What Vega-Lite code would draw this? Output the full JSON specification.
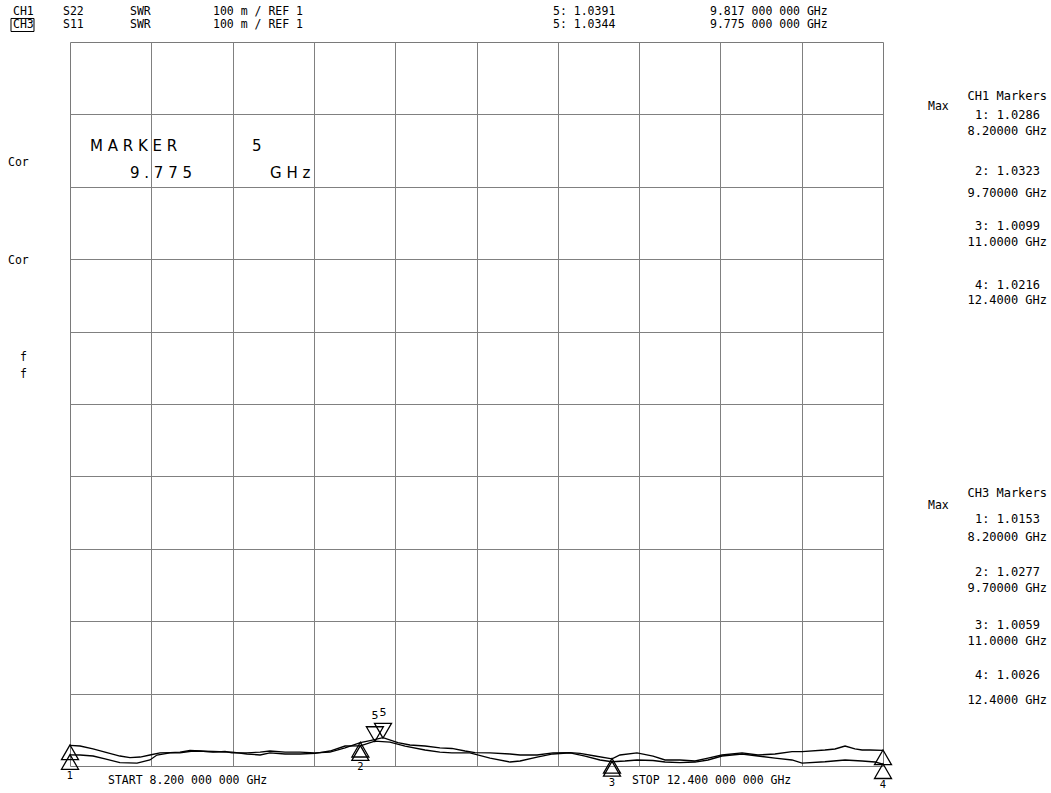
{
  "$schema": "https://vega.github.io/schema/vega-lite/v6.json",
  "width": 813,
  "height": 724,
  "autosize": {"type": "none"},
  "padding": {"left": 70, "top": 42, "right": 168, "bottom": 27},
  "background": "white",
  "config": {"view": {"stroke": "#7a7a7a", "strokeWidth": 1}, "font": "DejaVu Sans"},
  "datasets": {
    "trace": [
      {"ch":"CH1","f":8.200,"swr":1.0286},{"ch":"CH1","f":8.252,"swr":1.0276},{"ch":"CH1","f":8.319,"swr":1.0235},{"ch":"CH1","f":8.381,"swr":1.0193},{"ch":"CH1","f":8.458,"swr":1.0138},{"ch":"CH1","f":8.510,"swr":1.0117},{"ch":"CH1","f":8.562,"swr":1.0124},{"ch":"CH1","f":8.613,"swr":1.0152},{"ch":"CH1","f":8.665,"swr":1.0180},{"ch":"CH1","f":8.717,"swr":1.0186},{"ch":"CH1","f":8.768,"swr":1.0193},{"ch":"CH1","f":8.820,"swr":1.0214},{"ch":"CH1","f":8.872,"swr":1.0207},{"ch":"CH1","f":8.939,"swr":1.0193},{"ch":"CH1","f":9.001,"swr":1.0200},{"ch":"CH1","f":9.037,"swr":1.0180},{"ch":"CH1","f":9.114,"swr":1.0180},{"ch":"CH1","f":9.182,"swr":1.0193},{"ch":"CH1","f":9.233,"swr":1.0207},{"ch":"CH1","f":9.311,"swr":1.0193},{"ch":"CH1","f":9.388,"swr":1.0193},{"ch":"CH1","f":9.466,"swr":1.0180},{"ch":"CH1","f":9.543,"swr":1.0193},{"ch":"CH1","f":9.621,"swr":1.0249},{"ch":"CH1","f":9.700,"swr":1.0323},{"ch":"CH1","f":9.750,"swr":1.0352},{"ch":"CH1","f":9.817,"swr":1.0391},{"ch":"CH1","f":9.894,"swr":1.0322},{"ch":"CH1","f":9.956,"swr":1.0290},{"ch":"CH1","f":10.034,"swr":1.0276},{"ch":"CH1","f":10.111,"swr":1.0249},{"ch":"CH1","f":10.173,"swr":1.0242},{"ch":"CH1","f":10.241,"swr":1.0207},{"ch":"CH1","f":10.292,"swr":1.0184},{"ch":"CH1","f":10.370,"swr":1.0180},{"ch":"CH1","f":10.473,"swr":1.0166},{"ch":"CH1","f":10.525,"swr":1.0152},{"ch":"CH1","f":10.613,"swr":1.0152},{"ch":"CH1","f":10.695,"swr":1.0180},{"ch":"CH1","f":10.783,"swr":1.0186},{"ch":"CH1","f":10.835,"swr":1.0173},{"ch":"CH1","f":10.912,"swr":1.0138},{"ch":"CH1","f":11.000,"swr":1.0099},{"ch":"CH1","f":11.041,"swr":1.0152},{"ch":"CH1","f":11.129,"swr":1.0180},{"ch":"CH1","f":11.212,"swr":1.0138},{"ch":"CH1","f":11.274,"swr":1.0083},{"ch":"CH1","f":11.351,"swr":1.0083},{"ch":"CH1","f":11.429,"swr":1.0069},{"ch":"CH1","f":11.496,"swr":1.0110},{"ch":"CH1","f":11.568,"swr":1.0152},{"ch":"CH1","f":11.672,"swr":1.0180},{"ch":"CH1","f":11.754,"swr":1.0152},{"ch":"CH1","f":11.842,"swr":1.0166},{"ch":"CH1","f":11.930,"swr":1.0198},{"ch":"CH1","f":11.982,"swr":1.0198},{"ch":"CH1","f":12.100,"swr":1.0221},{"ch":"CH1","f":12.152,"swr":1.0235},{"ch":"CH1","f":12.204,"swr":1.0276},{"ch":"CH1","f":12.255,"swr":1.0235},{"ch":"CH1","f":12.292,"swr":1.0221},{"ch":"CH1","f":12.333,"swr":1.0221},{"ch":"CH1","f":12.400,"swr":1.0216},
      {"ch":"CH3","f":8.200,"swr":1.0153},{"ch":"CH3","f":8.252,"swr":1.0152},{"ch":"CH3","f":8.319,"swr":1.0138},{"ch":"CH3","f":8.381,"swr":1.0097},{"ch":"CH3","f":8.458,"swr":1.0048},{"ch":"CH3","f":8.546,"swr":1.0041},{"ch":"CH3","f":8.613,"swr":1.0083},{"ch":"CH3","f":8.649,"swr":1.0152},{"ch":"CH3","f":8.717,"swr":1.0180},{"ch":"CH3","f":8.768,"swr":1.0180},{"ch":"CH3","f":8.835,"swr":1.0207},{"ch":"CH3","f":8.939,"swr":1.0200},{"ch":"CH3","f":9.037,"swr":1.0193},{"ch":"CH3","f":9.114,"swr":1.0166},{"ch":"CH3","f":9.182,"swr":1.0152},{"ch":"CH3","f":9.233,"swr":1.0180},{"ch":"CH3","f":9.311,"swr":1.0166},{"ch":"CH3","f":9.388,"swr":1.0166},{"ch":"CH3","f":9.466,"swr":1.0173},{"ch":"CH3","f":9.543,"swr":1.0207},{"ch":"CH3","f":9.621,"swr":1.0276},{"ch":"CH3","f":9.700,"swr":1.0277},{"ch":"CH3","f":9.775,"swr":1.0344},{"ch":"CH3","f":9.853,"swr":1.0331},{"ch":"CH3","f":9.931,"swr":1.0276},{"ch":"CH3","f":10.034,"swr":1.0221},{"ch":"CH3","f":10.111,"swr":1.0193},{"ch":"CH3","f":10.173,"swr":1.0180},{"ch":"CH3","f":10.266,"swr":1.0180},{"ch":"CH3","f":10.370,"swr":1.0110},{"ch":"CH3","f":10.473,"swr":1.0055},{"ch":"CH3","f":10.525,"swr":1.0069},{"ch":"CH3","f":10.613,"swr":1.0124},{"ch":"CH3","f":10.695,"swr":1.0166},{"ch":"CH3","f":10.783,"swr":1.0180},{"ch":"CH3","f":10.861,"swr":1.0138},{"ch":"CH3","f":10.938,"swr":1.0083},{"ch":"CH3","f":11.000,"swr":1.0059},{"ch":"CH3","f":11.067,"swr":1.0069},{"ch":"CH3","f":11.129,"swr":1.0083},{"ch":"CH3","f":11.212,"swr":1.0076},{"ch":"CH3","f":11.274,"swr":1.0055},{"ch":"CH3","f":11.351,"swr":1.0046},{"ch":"CH3","f":11.429,"swr":1.0055},{"ch":"CH3","f":11.496,"swr":1.0083},{"ch":"CH3","f":11.568,"swr":1.0138},{"ch":"CH3","f":11.672,"swr":1.0166},{"ch":"CH3","f":11.754,"swr":1.0138},{"ch":"CH3","f":11.842,"swr":1.0110},{"ch":"CH3","f":11.930,"swr":1.0083},{"ch":"CH3","f":11.982,"swr":1.0041},{"ch":"CH3","f":12.100,"swr":1.0059},{"ch":"CH3","f":12.204,"swr":1.0083},{"ch":"CH3","f":12.292,"swr":1.0069},{"ch":"CH3","f":12.359,"swr":1.0055},{"ch":"CH3","f":12.400,"swr":1.0026}
    ],
    "markers": [
      {"ch":"CH1","n":"1","f":8.2,"swr":1.0286},{"ch":"CH1","n":"2","f":9.7,"swr":1.0323},{"ch":"CH1","n":"3","f":11.0,"swr":1.0099},{"ch":"CH1","n":"4","f":12.4,"swr":1.0216},{"ch":"CH1","n":"5","f":9.817,"swr":1.0391},
      {"ch":"CH3","n":"1","f":8.2,"swr":1.0153},{"ch":"CH3","n":"2","f":9.7,"swr":1.0277},{"ch":"CH3","n":"3","f":11.0,"swr":1.0059},{"ch":"CH3","n":"4","f":12.4,"swr":1.0026},{"ch":"CH3","n":"5","f":9.775,"swr":1.0344}
    ],
    "hdr": [
      {"t":"CH1","f":7.9055,"swr":2.0410},{"t":"S22","f":8.1638,"swr":2.0410},{"t":"SWR","f":8.5100,"swr":2.0410},{"t":"100 m / REF 1","f":8.9388,"swr":2.0410},{"t":"5: 1.0391","f":10.6952,"swr":2.0410},{"t":"9.817 000 000 GHz","f":11.5063,"swr":2.0410},
      {"t":"CH3","f":7.9055,"swr":2.0235},{"t":"S11","f":8.1638,"swr":2.0235},{"t":"SWR","f":8.5100,"swr":2.0235},{"t":"100 m / REF 1","f":8.9388,"swr":2.0235},{"t":"5: 1.0344","f":10.6952,"swr":2.0235},{"t":"9.775 000 000 GHz","f":11.5063,"swr":2.0235},
      {"t":"START 8.200 000 000 GHz","f":8.3963,"swr":0.9793},{"t":"STOP 12.400 000 000 GHz","f":11.1034,"swr":0.9793},
      {"t":"Cor","f":7.8797,"swr":1.8329},{"t":"Cor","f":7.8797,"swr":1.6975},{"t":"f","f":7.9417,"swr":1.5635},{"t":"f","f":7.9417,"swr":1.5401},
      {"t":"Max","f":12.6325,"swr":1.9100},{"t":"Max","f":12.6325,"swr":1.3590}
    ],
    "side": [
      {"t":"CH1 Markers","f":13.2473,"swr":1.9254},{"t":"1: 1.0286","f":13.2111,"swr":1.8985},{"t":"8.20000 GHz","f":13.2473,"swr":1.8770},{"t":"2: 1.0323","f":13.2111,"swr":1.8218},{"t":"9.70000 GHz","f":13.2473,"swr":1.7914},{"t":"3: 1.0099","f":13.2111,"swr":1.7465},{"t":"11.0000 GHz","f":13.2473,"swr":1.7240},{"t":"4: 1.0216","f":13.2111,"swr":1.6644},{"t":"12.4000 GHz","f":13.2473,"swr":1.6436},
      {"t":"CH3 Markers","f":13.2473,"swr":1.3771},{"t":"1: 1.0153","f":13.2111,"swr":1.3405},{"t":"8.20000 GHz","f":13.2473,"swr":1.3165},{"t":"2: 1.0277","f":13.2111,"swr":1.2680},{"t":"9.70000 GHz","f":13.2473,"swr":1.2459},{"t":"3: 1.0059","f":13.2111,"swr":1.1945},{"t":"11.0000 GHz","f":13.2473,"swr":1.1720},{"t":"4: 1.0026","f":13.2111,"swr":1.1257},{"t":"12.4000 GHz","f":13.2473,"swr":1.0912}
    ],
    "big": [
      {"t":"M  A  R  K  E  R","f":8.3033,"swr":1.8563},{"t":"5","f":9.1402,"swr":1.8563},
      {"t":"9   .   7   7   5","f":8.5100,"swr":1.8190},{"t":"G  H  z","f":9.2332,"swr":1.8190}
    ],
    "box": [{"f":7.8952,"f2":8.0140,"swr":2.0325,"swr2":2.0145}]
  },
  "encoding": {
    "x": {"field":"f","type":"quantitative","scale":{"domain":[8.2,12.4],"nice":false,"zero":false},
      "axis":{"values":[8.62,9.04,9.46,9.88,10.3,10.72,11.14,11.56,11.98],"grid":true,"labels":false,"ticks":false,"domain":false,"title":null,"gridColor":"#808080","gridOpacity":1,"gridWidth":1}},
    "y": {"field":"swr","type":"quantitative","scale":{"domain":[1,2],"nice":false,"zero":false},
      "axis":{"values":[1.1,1.2,1.3,1.4,1.5,1.6,1.7,1.8,1.9],"grid":true,"labels":false,"ticks":false,"domain":false,"title":null,"gridColor":"#808080","gridOpacity":1,"gridWidth":1}}
  },
  "layer": [
    {"data":{"name":"trace"},"mark":{"type":"line","color":"black","strokeWidth":1.3},"encoding":{"detail":{"field":"ch"}}},
    {"data":{"name":"markers"},"transform":[{"filter":"datum.n != '5'"}],"mark":{"type":"point","shape":"triangle-up","size":289,"filled":false,"stroke":"black","strokeWidth":1.3,"yOffset":7,"opacity":1}},
    {"data":{"name":"markers"},"transform":[{"filter":"datum.n == '5'"}],"mark":{"type":"point","shape":"triangle-down","size":289,"filled":false,"stroke":"black","strokeWidth":1.3,"yOffset":-7,"opacity":1}},
    {"data":{"name":"markers"},"transform":[{"filter":"datum.n != '5' && datum.ch == 'CH3'"}],"mark":{"type":"text","fontSize":10,"color":"black","yOffset":21},"encoding":{"text":{"field":"n"}}},
    {"data":{"name":"markers"},"transform":[{"filter":"datum.n == '5'"}],"mark":{"type":"text","fontSize":11,"color":"black","yOffset":-25},"encoding":{"text":{"field":"n"}}},
    {"data":{"name":"hdr"},"mark":{"type":"text","align":"left","baseline":"middle","font":"DejaVu Sans Mono","fontSize":11.5,"color":"black"},"encoding":{"text":{"field":"t"}}},
    {"data":{"name":"side"},"mark":{"type":"text","align":"right","baseline":"middle","font":"DejaVu Sans Mono","fontSize":12,"color":"black"},"encoding":{"text":{"field":"t"}}},
    {"data":{"name":"big"},"mark":{"type":"text","align":"left","baseline":"middle","font":"DejaVu Sans","fontSize":15,"color":"black"},"encoding":{"text":{"field":"t"}}},
    {"data":{"name":"box"},"mark":{"type":"rect","filled":false,"stroke":"black","strokeWidth":1},"encoding":{"x2":{"field":"f2"},"y2":{"field":"swr2"}}}
  ]
}
